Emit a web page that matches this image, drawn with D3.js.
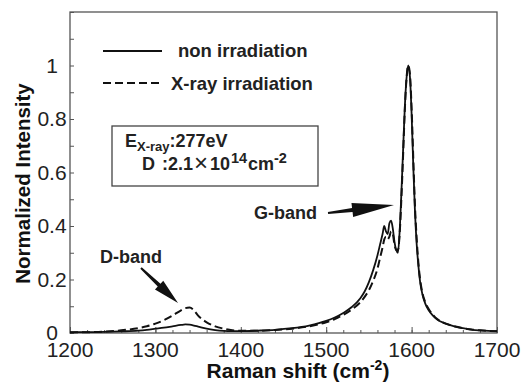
<!DOCTYPE html>
<html>
<head>
<meta charset="utf-8">
<script src="https://cdn.jsdelivr.net/npm/d3@7"></script>
<style>
  body { margin: 0; background: #fff; }
  svg { display: block; font-family: "Liberation Sans", Arial, sans-serif; }
</style>
</head>
<body>
<div id="viz"></div>
<script>
const width = 524;
const height = 382;
const margin = { top: 12, right: 27, bottom: 49, left: 70 };

// raman shift (cm-2) sample points
const ramanShift = [1200, 1220, 1240, 1260, 1280, 1290, 1300, 1310, 1320, 1330, 1335, 1340, 1345, 1350,
  1360, 1370, 1380, 1390, 1400, 1420, 1440, 1460, 1480, 1500, 1510, 1520, 1530, 1540, 1545, 1550,
  1555, 1560, 1563, 1566, 1568, 1570, 1572, 1574, 1576, 1578, 1580, 1582, 1584, 1586, 1588, 1590,
  1592, 1594, 1596, 1598, 1600, 1602, 1604, 1606, 1608, 1610, 1613, 1616, 1620, 1625, 1630, 1640,
  1650, 1660, 1670, 1680, 1690, 1700];

const nonIrradiation = [0.003, 0.003, 0.004, 0.006, 0.009, 0.012, 0.016, 0.02, 0.025, 0.03, 0.032, 0.031, 0.028, 0.024,
  0.016, 0.011, 0.008, 0.007, 0.007, 0.009, 0.012, 0.018, 0.028, 0.045, 0.058, 0.075, 0.097, 0.13, 0.155, 0.19,
  0.235, 0.29, 0.33, 0.37, 0.4, 0.38, 0.37, 0.41, 0.42, 0.39, 0.34, 0.31, 0.3, 0.38, 0.52, 0.68,
  0.84, 0.95, 1.0, 0.96, 0.82, 0.62, 0.45, 0.33, 0.25, 0.19, 0.14, 0.11, 0.085, 0.065, 0.05, 0.035,
  0.025, 0.018, 0.013, 0.01, 0.008, 0.007];

const xrayIrradiation = [0.002, 0.003, 0.005, 0.01, 0.018, 0.025, 0.035, 0.048, 0.065, 0.085, 0.093, 0.095, 0.085, 0.065,
  0.04, 0.025, 0.016, 0.01, 0.008, 0.008, 0.011, 0.016, 0.025, 0.04, 0.052, 0.068, 0.088, 0.115, 0.135, 0.16,
  0.195, 0.24, 0.28, 0.32, 0.35, 0.36, 0.35, 0.36, 0.38, 0.37, 0.33, 0.31, 0.31, 0.37, 0.5, 0.66,
  0.83, 0.95, 1.0, 0.97, 0.84, 0.65, 0.47, 0.35, 0.26, 0.2, 0.145, 0.115, 0.09, 0.068, 0.052, 0.035,
  0.025, 0.018, 0.013, 0.01, 0.008, 0.007];

const xTicks = [1200, 1300, 1400, 1500, 1600, 1700];
const yTicks = [0, 0.2, 0.4, 0.6, 0.8, 1];

const x = d3.scaleLinear()
  .domain([1200, 1700])
  .range([margin.left, width - margin.right]);

const y = d3.scaleLinear()
  .domain([0, 1.2])
  .range([height - margin.bottom, margin.top]);

const svg = d3.select('#viz').append('svg')
  .attr('width', width)
  .attr('height', height);

const axisColor = '#555';
const textColor = '#222';

// minor ticks, inward
svg.append('g')
  .attr('transform', `translate(0,${height - margin.bottom})`)
  .call(d3.axisTop(x).tickValues(d3.range(1200, 1701, 20)).tickSize(3).tickFormat(''))
  .call(g => g.select('.domain').remove())
  .call(g => g.selectAll('line').attr('stroke', axisColor));

svg.append('g')
  .attr('transform', `translate(0,${height - margin.bottom})`)
  .call(d3.axisTop(x).tickValues(xTicks).tickSize(6).tickFormat(''))
  .call(g => g.select('.domain').remove())
  .call(g => g.selectAll('line').attr('stroke', axisColor));

svg.append('g')
  .attr('transform', `translate(${margin.left},0)`)
  .call(d3.axisRight(y).tickValues(d3.range(0, 1.21, 0.1)).tickSize(4).tickFormat(''))
  .call(g => g.select('.domain').remove())
  .call(g => g.selectAll('line').attr('stroke', axisColor));

// frame
svg.append('rect')
  .attr('x', margin.left)
  .attr('y', margin.top)
  .attr('width', width - margin.left - margin.right)
  .attr('height', height - margin.top - margin.bottom)
  .attr('fill', 'none')
  .attr('stroke', axisColor)
  .attr('stroke-width', 1.3);

// tick labels
svg.append('g')
  .selectAll('text')
  .data(xTicks)
  .join('text')
  .attr('x', d => x(d))
  .attr('y', 357)
  .attr('text-anchor', 'middle')
  .attr('font-size', 21)
  .attr('fill', textColor)
  .text(d => d);

svg.append('g')
  .selectAll('text')
  .data(yTicks)
  .join('text')
  .attr('x', 52)
  .attr('y', d => y(d) + 7)
  .attr('text-anchor', 'middle')
  .attr('font-size', 21)
  .attr('fill', textColor)
  .text(d => d);

// axis titles
svg.append('text')
  .attr('transform', `translate(30,${(margin.top + height - margin.bottom) / 2 + 11}) rotate(-90)`)
  .attr('text-anchor', 'middle')
  .attr('font-size', 20.5)
  .attr('font-weight', 'bold')
  .attr('fill', '#111')
  .text('Normalized Intensity');

const xTitle = svg.append('text')
  .attr('x', 298)
  .attr('y', 378)
  .attr('text-anchor', 'middle')
  .attr('font-size', 21)
  .attr('font-weight', 'bold')
  .attr('fill', '#111');
xTitle.append('tspan').text('Raman shift (cm');
xTitle.append('tspan').attr('dy', -8).attr('font-size', 14).text('-2');
xTitle.append('tspan').attr('dy', 8).text(')');

// curves
const line = d3.line()
  .x((d, i) => x(ramanShift[i]))
  .y(d => y(d))
  .curve(d3.curveMonotoneX);

svg.append('path')
  .attr('fill', 'none')
  .attr('stroke', '#111')
  .attr('stroke-width', 1.8)
  .attr('d', line(nonIrradiation));

svg.append('path')
  .attr('fill', 'none')
  .attr('stroke', '#111')
  .attr('stroke-width', 2)
  .attr('stroke-dasharray', '8,4')
  .attr('d', line(xrayIrradiation));

// legend
const legend = svg.append('g');
legend.append('line')
  .attr('x1', 103).attr('x2', 162).attr('y1', 51).attr('y2', 51)
  .attr('stroke', '#111').attr('stroke-width', 2);
legend.append('text')
  .attr('x', 178).attr('y', 57)
  .attr('font-size', 18.5).attr('font-weight', 'bold').attr('fill', textColor)
  .text('non irradiation');
legend.append('line')
  .attr('x1', 103).attr('x2', 162).attr('y1', 83).attr('y2', 83)
  .attr('stroke', '#111').attr('stroke-width', 2)
  .attr('stroke-dasharray', '8,4');
legend.append('text')
  .attr('x', 171).attr('y', 89.5)
  .attr('font-size', 18.5).attr('font-weight', 'bold').attr('fill', textColor)
  .text('X-ray irradiation');

// condition box
svg.append('rect')
  .attr('x', 112).attr('y', 126)
  .attr('width', 206).attr('height', 60)
  .attr('fill', '#fff')
  .attr('stroke', '#444')
  .attr('stroke-width', 1.3);

const t1 = svg.append('text')
  .attr('x', 125).attr('y', 147)
  .attr('font-size', 18).attr('font-weight', 'bold').attr('fill', textColor);
t1.append('tspan').text('E');
t1.append('tspan').attr('dy', 4).attr('font-size', 13).text('X-ray');
t1.append('tspan').attr('dy', -4).text(':277eV');

const t2 = svg.append('text')
  .attr('y', 170)
  .attr('font-size', 18).attr('font-weight', 'bold').attr('fill', textColor);
t2.append('tspan').attr('x', 142).text('D');
t2.append('tspan').attr('x', 162).text(':2.1');
t2.append('tspan').attr('x', 194).attr('dy', 1).attr('font-size', 24).attr('font-weight', 'normal').text('\u00d7');
t2.append('tspan').attr('x', 210).attr('dy', -1).text('10');
t2.append('tspan').attr('x', 231).attr('dy', -7).attr('font-size', 14.5).text('14');
t2.append('tspan').attr('x', 248).attr('dy', 7).text('cm');
t2.append('tspan').attr('x', 274).attr('dy', -7).attr('font-size', 14.5).text('-2');

// band labels and arrows
function arrow(x0, y0, x1, y1, headLen, headW) {
  const ang = Math.atan2(y1 - y0, x1 - x0);
  const nx = -Math.sin(ang), ny = Math.cos(ang);
  const bx = x1 - Math.cos(ang) * headLen, by = y1 - Math.sin(ang) * headLen;
  return `M${x0 + nx * 1},${y0 + ny * 1}L${bx + nx * 2},${by + ny * 2}L${bx + nx * headW},${by + ny * headW}` +
    `L${x1},${y1}L${bx - nx * headW},${by - ny * headW}L${bx - nx * 2},${by - ny * 2}L${x0 - nx * 1},${y0 - ny * 1}Z`;
}

svg.append('text')
  .attr('x', 254).attr('y', 219)
  .attr('font-size', 18).attr('font-weight', 'bold').attr('fill', textColor)
  .text('G-band');
svg.append('path')
  .attr('fill', '#111')
  .attr('d', arrow(328, 213, 394, 205, 42, 7));

svg.append('text')
  .attr('x', 100).attr('y', 263)
  .attr('font-size', 18).attr('font-weight', 'bold').attr('fill', textColor)
  .text('D-band');
svg.append('path')
  .attr('fill', '#111')
  .attr('d', arrow(141, 268, 178, 303, 26, 6));
</script>
</body>
</html>
